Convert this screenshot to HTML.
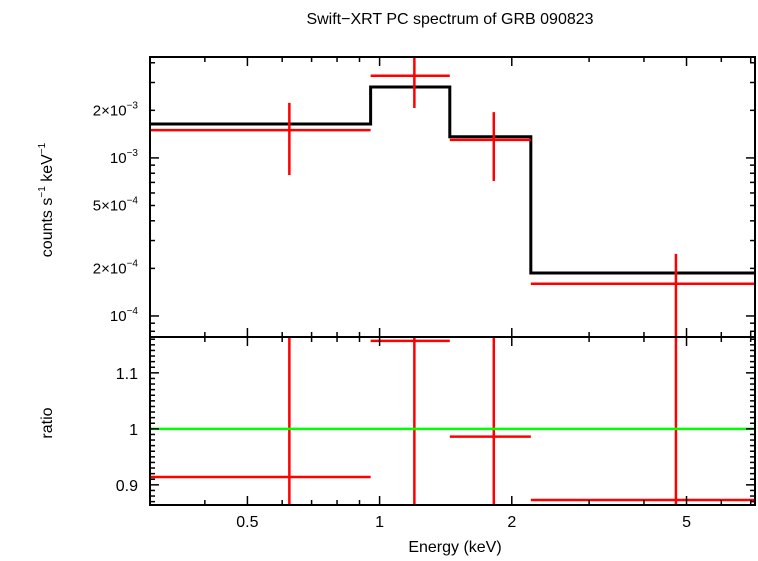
<!DOCTYPE html>
<html><head><meta charset="utf-8"><style>
body{margin:0;background:#fff;}
svg text{font-family:"Liberation Sans",sans-serif;fill:#000;}
</style></head><body>
<svg id="chart" width="758" height="556" xmlns="http://www.w3.org/2000/svg">
<text x="450" y="24" font-size="16" text-anchor="middle">Swift−XRT PC spectrum of GRB 090823</text>
<g id="g"></g>
</svg>
<script>
const binLo=[0.3,0.954,1.445,2.21];
const binHi=[0.954,1.445,2.21,7.16];
const dataE=[0.623,1.20,1.82,4.73];
const dataV=[1.50e-3,3.31e-3,1.30e-3,1.6e-4];
const dataHi=[2.23e-3,4.6e-3,1.95e-3,2.47e-4];
const dataLo=[7.8e-4,2.07e-3,7.15e-4,1e-6];
const modelV=[1.64e-3,2.81e-3,1.36e-3,1.87e-4];
const ratioV=[0.914,1.157,0.986,0.873];
const ratioHi=[1.4,1.4,1.4,1.4];
const ratioLo=[0.5,0.5,0.5,0.5];
const xTickVals=[0.5,1,2,5];
const xTickLabels=["0.5","1","2","5"];
const yTopTickVals=[2e-3,1e-3,5e-4,2e-4,1e-4];
const yTopTickLabels=[["2×10","−3"],["10","−3"],["5×10","−4"],["2×10","−4"],["10","−4"]];
const yBotTickVals=[0.9,1,1.1];
const yBotTickLabels=["0.9","1","1.1"];

const L=150,R=755,T1=57,B1=337,T2=337,B2=505;
const xMin=0.3,xMax=7.16;
const X=e=>L+(R-L)*(Math.log10(e)-Math.log10(xMin))/(Math.log10(xMax)-Math.log10(xMin));
const yMinT=7.36e-5,yMaxT=4.35e-3;
const YT=v=>{let y=B1-(B1-T1)*(Math.log10(v)-Math.log10(yMinT))/(Math.log10(yMaxT)-Math.log10(yMinT));return Math.max(T1,Math.min(B1,y));};
const rMin=0.864,rMax=1.164;
const YB=v=>{let y=B2-(B2-T2)*(v-rMin)/(rMax-rMin);return Math.max(T2,Math.min(B2,y));};
const g=document.getElementById('g');
const NS="http://www.w3.org/2000/svg";
function ln(x1,y1,x2,y2,c,w,name){const e=document.createElementNS(NS,'line');
e.setAttribute('x1',x1);e.setAttribute('y1',y1);e.setAttribute('x2',x2);e.setAttribute('y2',y2);
e.setAttribute('stroke',c);e.setAttribute('stroke-width',w);


g.appendChild(e);return e;}
function tx(x,y,s,anchor,size,name){const e=document.createElementNS(NS,'text');
e.setAttribute('x',x);e.setAttribute('y',y);e.setAttribute('text-anchor',anchor);e.setAttribute('font-size',size);e.textContent=s;


g.appendChild(e);return e;}
// model step
let d="";
for(let i=0;i<binLo.length;i++){d+=(i?"L":"M")+X(binLo[i])+","+YT(modelV[i])+"L"+X(binHi[i])+","+YT(modelV[i]);}
const p=document.createElementNS(NS,'path');p.setAttribute('d',d);p.setAttribute('fill','none');p.setAttribute('stroke','#000');p.setAttribute('stroke-width','3');


g.appendChild(p);
// data
for(let i=0;i<dataE.length;i++){
 ln(X(binLo[i]),YT(dataV[i]),X(binHi[i]),YT(dataV[i]),'#f00',2.5,'data-bin-'+i);
 ln(X(dataE[i]),YT(dataHi[i]),X(dataE[i]),YT(dataLo[i]),'#f00',2.5,'data-error-'+i);
 ln(X(binLo[i]),YB(ratioV[i]),X(binHi[i]),YB(ratioV[i]),'#f00',2.5,'ratio-bin-'+i);
 ln(X(dataE[i]),YB(ratioHi[i]),X(dataE[i]),YB(ratioLo[i]),'#f00',2.5,'ratio-error-'+i);
}
ln(L,YB(1),R,YB(1),'#0f0',2.5,'unity-line');
// frames
[[T1,B1,'top-panel-frame'],[T2,B2,'bottom-panel-frame']].forEach(([t,b,n])=>{
 const r=document.createElementNS(NS,'rect');r.setAttribute('x',L);r.setAttribute('y',t);r.setAttribute('width',R-L);r.setAttribute('height',b-t);
 r.setAttribute('fill','none');r.setAttribute('stroke','#000');r.setAttribute('stroke-width','2');
 
 
 g.appendChild(r);
});
// x ticks
const minorX=[0.3,0.4,0.6,0.7,0.8,0.9,3,4,6,7];
[[T1,B1],[T2,B2]].forEach(([t,b])=>{
 xTickVals.forEach(v=>{ln(X(v),t,X(v),t+9,'#000',1.5,'x-major-tick');ln(X(v),b,X(v),b-9,'#000',1.5,'x-major-tick');});
 minorX.forEach(v=>{ln(X(v),t,X(v),t+5,'#000',1.5,'x-minor-tick');ln(X(v),b,X(v),b-5,'#000',1.5,'x-minor-tick');});
});
xTickVals.forEach((v,i)=>tx(X(v),527,xTickLabels[i],'middle',16,'x-tick-label'));
tx(455,552,'Energy (keV)','middle',16,'x-axis-title');
// top y ticks
const minorT=[];for(let dcd=-5;dcd<=-3;dcd++)for(let m=1;m<10;m++){const v=m*Math.pow(10,dcd);if(v>yMinT&&v<yMaxT)minorT.push(v);}
minorT.forEach(v=>{const maj=(Math.abs(Math.log10(v)-Math.round(Math.log10(v)))<1e-6);const len=maj?9:5;
 ln(L,YT(v),L+len,YT(v),'#000',1.5,'y-top-tick');ln(R,YT(v),R-len,YT(v),'#000',1.5,'y-top-tick');});
yTopTickVals.forEach((v,i)=>{const e=tx(138,YT(v)+5,'','end',15,'y-top-tick-label');
 e.innerHTML=yTopTickLabels[i][0]+'<tspan dy="-7" font-size="10">'+yTopTickLabels[i][1]+'</tspan>';});
const yt=tx(0,0,'','middle',16,'y-top-axis-title');yt.setAttribute('transform','translate(52,200) rotate(-90)');
yt.innerHTML='counts s<tspan dy="-7" font-size="10">−1</tspan><tspan dy="7"> keV</tspan><tspan dy="-7" font-size="10">−1</tspan>';
// bottom y ticks
for(let v=0.87;v<1.165;v+=0.01){const r=Math.round(v*100)/100;const maj=Math.abs(r*10-Math.round(r*10))<1e-6;const len=maj?9:5;
 ln(L,YB(r),L+len,YB(r),'#000',1.5,'y-bottom-tick');ln(R,YB(r),R-len,YB(r),'#000',1.5,'y-bottom-tick');}
yBotTickVals.forEach((v,i)=>tx(138,YB(v)+6,yBotTickLabels[i],'end',16,'y-bottom-tick-label'));
const yb=tx(0,0,'ratio','middle',16,'y-bottom-axis-title');yb.setAttribute('transform','translate(52,423) rotate(-90)');
</script>
</body></html>
